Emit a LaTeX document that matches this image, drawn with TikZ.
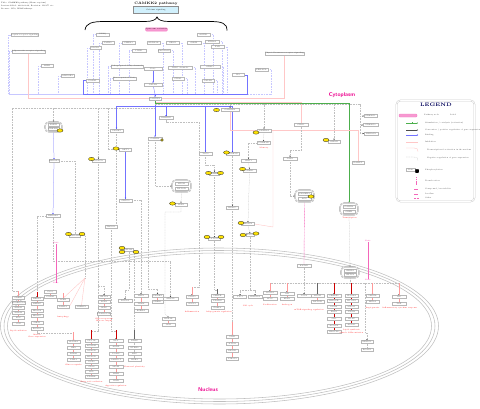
\documentclass[tikz,border=0pt]{standalone}
\usetikzlibrary{shapes.geometric,arrows.meta}
\pgfdeclarelayer{bg}
\pgfsetlayers{bg,main}
\newcommand\genecol[5]{%
  \foreach \yy/\gt [count=\ci] in {#3}{%
    \node[gene, minimum width=#5pt] (#1\ci) at (#2,\yy) {\gt};
    \ifnum\ci>1
      \pgfmathtruncatemacro\cj{\ci-1}%
      \begin{pgfonlayer}{bg}\draw[#4] (#1\cj.south) -- (#1\ci.north);\end{pgfonlayer}%
    \fi
  }}
\begin{document}
\begin{tikzpicture}[x=1pt,y=-1pt,
  tiny/.style={font=\fontsize{1.8}{2}\selectfont, inner sep=0pt},
  gene/.style={draw=black!28, fill=white, line width=0.3pt, inner sep=0pt, minimum height=3pt, minimum width=13pt, font=\fontsize{1.8}{2}\selectfont, text=black!70},
  yel/.style={ellipse, draw=black!85, fill=yellow!85!orange, line width=0.3pt, minimum width=6pt, minimum height=3.4pt, inner sep=0pt},
  cplx/.style={draw=black!40, double=white, double distance=0.5pt, line width=0.3pt, rounded corners=4pt, fill=white, inner sep=0pt},
  gd/.style={draw=black!25, dash pattern=on 1pt off 0.6pt, line width=0.25pt},
  ga/.style={gd, -{Stealth[length=1.2pt,width=1.2pt,black!80]}},
  bl/.style={draw=blue!22, dash pattern=on 1pt off 0.6pt, line width=0.25pt},
  bla/.style={draw=blue!55, line width=0.25pt, -{Stealth[length=1.2pt,width=1.2pt,blue!80]}},
  buss/.style={draw=blue!55, line width=0.35pt},
  gn/.style={draw=green!55!black!70, line width=0.25pt, -{Stealth[length=1.2pt,width=1.2pt]}},
  pk/.style={draw=red!22, line width=0.4pt},
  rl/.style={draw=red!40, line width=0.45pt},
  rd/.style={draw=red!80!black, line width=0.6pt},
  dk/.style={draw=black!60, line width=0.5pt},
  redtxt/.style={text=red, font=\fontsize{1.8}{2}\selectfont, inner sep=0pt},
  ltxt/.style={font=\fontsize{1.8}{2}\selectfont, inner sep=0pt, anchor=west, text=black!80},
]
\useasboundingbox (0,0) rectangle (480,408);

% nucleus membrane
\begin{pgfonlayer}{bg}
\draw[black!25, line width=0.55pt] (219.5,326) ellipse [x radius=219pt, y radius=78pt];
\draw[black!25, line width=0.55pt] (219.5,326) ellipse [x radius=215.5pt, y radius=75.5pt];
\draw[black!25, line width=0.55pt] (219.5,326) ellipse [x radius=212pt, y radius=73pt];
\end{pgfonlayer}

% header
\node[tiny, anchor=west] (h1) at (1,2.7) {Title: CAMKK2 pathway (Homo sapiens)};
\node[tiny, anchor=west] (h2) at (1,5.7) {Last modified: 2021-03-09, Revision: 116175 etc.};
\node[tiny, anchor=west] (h3) at (1,8.9) {License: CC0, WikiPathways};
\node[font=\bfseries\fontsize{3.4}{4}\selectfont, inner sep=0pt] (title) at (156,3.2) {CAMKK2 pathway};
\node[draw=black!45, fill=cyan!18, line width=0.3pt, minimum width=45pt, minimum height=6.5pt, inner sep=0pt, font=\fontsize{1.8}{2}\selectfont] (cyan) at (156,9.7) {Calcium signaling};
\draw[line width=0.7pt] (85,30) .. controls (86,23) and (92,21.5) .. (105,21.5) -- (145,21.5) .. controls (152,21.5) and (156,20) .. (157,17) .. controls (158,20) and (162,21.5) .. (169,21.5) -- (209,21.5) .. controls (222,21.5) and (227,23) .. (227,30.5);
\node[draw=magenta!50, fill=magenta!40, rounded corners=1pt, minimum width=19pt, minimum height=3.2pt, inner sep=0pt, font=\fontsize{1.8}{2}\selectfont] (mag) at (156.5,29.5) {Upstream activators};

% top nodes
\foreach \gn/\gx/\gy/\gw/\gt in {
  t1/25/35/24/{Leptin receptor signaling},
  t2/28.5/51.5/31/{Adiponectin receptor signaling},
  t3/102.5/34.5/13/GNAQ, t4/108/43/12/P2RY2, t5/128.5/43/13/CHRM3,
  t6/153.5/43/13/ADRA1A, t7/172.5/43/13/GRM1, t8/194/43/14/GHSR,
  t9/203.5/34.5/13/AGTR1, t10/212/41.5/14/HTR2A, t11/217.5/47/13/F2R,
  t12/95.5/48/11/PLCB1, t13/139/50.5/14/ITPR1, t14/164/50.5/12/CACNA1C,
  t15/47/66/12/LEPR, t16/67.5/76/13/ADIPOR1,
  t17/127/66.5/28/{Voltage-gated Ca2+ channels}, t18/124.5/78.5/23/{Store-operated Ca2+},
  t19/153/69/18/{Ca2+}, t20/180/67.5/24/{TRPC channels}, t21/210/66.5/20/ORAI1,
  t22/178/78.5/12/STIM1, t23/92.5/80.5/13/CALM1, t24/153/84.5/18/CALM2,
  t25/208/80.5/12/CALM3, t26/238/75/12/IP3, t27/261.5/69.5/13/PRKACA,
  t28/284.5/53.5/39/{Thyroid hormone receptor signaling}}
  \node[gene, minimum width=\gw pt] (\gn) at (\gx,\gy) {\gt};
\node[gene, minimum width=12pt] (hub) at (155,98.5) {CAMKK2};
\coordinate (bus) at (155,94);
\node[text=magenta, font=\sffamily\bfseries\fontsize{5.5}{6}\selectfont, inner sep=0pt] (cyto) at (342,95.5) {Cytoplasm};

% cytoplasm nodes
\foreach \gn/\gx/\gy/\gw/\gt in {
  c2/54/161/10/PRKAA1, c3/53/216/14/PRKAA2, c4/116.5/130.5/13/CAMK1,
  c5/166/118/14/CAMK1D, c6/155/138.5/14/CAMK4, c7/125.5/149.5/12/AKT1,
  c8/98.5/160.5/13/ACACA, c9/205.5/153.5/13/TSC2, c10/214.5/173.5/10/RHEB,
  c12/181/204.5/12/ULK1, c13/125.5/200.5/13/CRTC2, c14/111/226.5/12/TBC1D1,
  c15/232.5/207.5/12/HDAC5, c16/232.5/154/13/CAMK1G,
  r0/230/109.5/18/CAMKK2, r1/370.5/116/13/PRKAG1, r2/370.5/125/15/PRKAG2,
  r3/371/133.5/14/PRKAG3, r4/301/125/14/STK11, r5/264/130.5/14/CAMK2A,
  r6/263.5/143/13/CAMK2B, r7/334/141.5/12/GSK3B, r8/248.5/160.5/15/SIRT1,
  r9/290/158.5/14/TAK1, r10/358/163/12/NAMPT, r11/249.5/170.5/13/CREB1,
  r14/248/224/13/HDAC4, l1/75/235.5/11/PRKAB2, l2/129/250/9/EP300,
  l3/250/235/8/RPTOR, l4/214.5/239/12/ATG13, n0/304/266/14/KAT2B}
  \node[gene, minimum width=\gw pt] (\gn) at (\gx,\gy) {\gt};

% complexes
\node[cplx, minimum width=17pt, minimum height=10pt] (c1) at (53.5,127) {};
\node[gene, minimum width=11pt] (c1a) at (53.5,125) {AMPK};
\node[gene, minimum width=11pt] (c1b) at (53.5,129) {PRKAB1};
\node[cplx, minimum width=19pt, minimum height=12pt] (c11) at (181.5,186) {};
\node[gene, minimum width=13pt] (c11a) at (181.5,184) {MTOR};
\node[gene, minimum width=13pt] (c11b) at (181.5,188.5) {RPTOR};
\node[cplx, minimum width=19pt, minimum height=12pt] (r12) at (304.5,196) {};
\node[gene, minimum width=13pt] (r12a) at (304.5,194) {CAMKK2};
\node[gene, minimum width=13pt] (r12b) at (304.5,198.5) {ACC};
\node[cplx, minimum width=18pt, minimum height=12pt] (r13) at (349,209) {};
\node[gene, minimum width=12pt] (r13a) at (349,207) {CAMK4};
\node[gene, minimum width=12pt] (r13b) at (349,211.5) {CREB};
\node[cplx, minimum width=18pt, minimum height=11pt] (n1) at (350,272.5) {};
\node[gene, minimum width=12pt] (n1a) at (350,270.5) {CREB1};
\node[gene, minimum width=12pt] (n1b) at (350,274.8) {CRTC2};

% yellow phospho marks
\foreach \gn/\gx/\gy in {yc1/60/130.5, yc7/116/148.5, yc8/91.5/159, yc10a/208.5/173, yc10b/220.5/173,
  yc12/172.5/203.5, yc16/226.5/152.5, yr0/216.5/110, yr5/256/132.5, yr7/326/140, yr11/242.5/169,
  yr12/311/196.5, yr14/241/223, yl1a/68.5/234, yl1b/82/234, yl2a/122/248, yl2b/122/252, yl2c/136/252,
  yl3a/243/235, yl3b/256/233.5, yl4a/207/237, yl4b/221/237}
  \node[yel] (\gn) at (\gx,\gy) {};
\node[yel, minimum width=2.6pt, minimum height=2.6pt] (yc6) at (162,140) {};

% nucleus columns
\genecol{A}{18.5}{298/CREB1,303/PPARGC1A,308/NR4A1,313/NR4A2,318/FOS,324/JUN}{rl}{12}
\genecol{B}{37}{299/MEF2A,304/MEF2C,311/HDAC4,316/HDAC5,323/SIRT1,329/FOXO3}{rl}{12}
\genecol{C}{50.5}{292/Ca2+,297/CALM1}{rl}{12}
\genecol{D}{63}{300/TFEB,307/LAMP1}{rl}{12}
\genecol{E}{81.5}{307/SREBF1}{rl}{13}
\genecol{F}{104}{297/CRTC2,302/PCK1,308/G6PC,314/PPARGC1A}{rl}{12}
\genecol{G}{125}{301/PGC1A}{rl}{14}
\genecol{H}{141}{296/NRF1,304/TFAM,311/ESRRA}{rl}{14}
\genecol{I}{157.5}{296/CAMK4,302/CREB1}{rl}{11}
\genecol{J}{170.5}{299/ARNTL}{rl}{15}
\genecol{K}{168.5}{319/HNF4A,325/GCK}{rl}{13}
\genecol{L}{192}{297/STAT3,304/SOCS3}{rl}{12}
\genecol{M}{217.5}{296/CEBPB,301/PPARG,308/FABP4}{rl}{13}
\genecol{N}{232.5}{337/ULK1,344/ATG13,351/BECN1,359/PIK3C3}{rl}{12}
\genecol{O}{73.5}{342/SLC2A4,348/HK2,354/PFKM,360/PDK4}{rl}{13}
\genecol{P}{91.5}{341/CPT1A,346/ACADM,351/ACACB,357/MLYCD,362/UCP3,367/CD36,372/LPL,377/PPARA}{rl}{13}
\genecol{Q}{116}{341/NPY,347/AGRP,354/POMC,360/CARTPT,367/MC4R,374/LEPR,381/INSR}{rl}{14}
\genecol{R}{134.5}{341/BDNF,348/NTRK2,354/ARC,360/EGR1}{gd}{13}
\genecol{S}{240}{297/TP53}{rl}{13}
\genecol{T}{255}{297/CDKN1A}{rl}{14}
\genecol{U}{270}{293/CCND1,299/MYC}{rl}{14}
\genecol{V}{287}{294/AR,299/KLK3}{rl}{14}
\genecol{W}{304}{296/TSC2}{rl}{14}
\genecol{X}{317.5}{296/MTOR,302/RPTOR}{rl}{13}
\genecol{Y}{334}{296/SREBF2,301/HMGCR,307/LDLR,312/FASN,319/SCD,326/ACACA,332/ELOVL6}{rd}{14}
\genecol{Z}{351.5}{296/SLC2A4,301/MYOD1,307/MYOG,312/TNNI2,319/MYH7,325/ACTA1}{rd}{13}
\genecol{AA}{372.5}{296/VEGFA,302/HIF1A}{rl}{13}
\genecol{AB}{399}{297/IL6,304/TNF}{rl}{14}
\genecol{AC}{367}{342/NFATC1,350/RCAN1}{gd}{12}

% red outcome labels
\node[redtxt] (Ar) at (18.5,331) {Lipid oxidation};
\node[redtxt] (Br1) at (37,335) {Muscle};
\node[redtxt] (Br2) at (37,337) {Gene expression};
\node[redtxt] (Dr) at (63,317) {Autophagy};
\node[redtxt] (Fr1) at (104,319.5) {Gluconeogenesis};
\node[redtxt] (Fr2) at (104,321.5) {Glucose output};
\node[redtxt] (Lr) at (192,312) {Inflammation};
\node[redtxt] (Mr) at (219,312) {Adipogenesis regulation};
\node[redtxt] (Or) at (73.5,365) {Glucose uptake};
\node[redtxt] (Pr) at (91.5,382) {Fatty acid oxidation};
\node[redtxt] (Qr) at (116,386) {Appetite regulation};
\node[redtxt] (Rr) at (134.5,367) {Neuronal plasticity};
\node[redtxt] (Tr) at (248,306) {Cell cycle};
\node[redtxt] (Ur) at (270,305) {Proliferation};
\node[redtxt] (Vr) at (287,305) {Androgen};
\node[redtxt] (Wr) at (309,310) {mTOR signaling regulation};
\node[redtxt] (Zr1) at (351.5,330) {Lipid synthesis};
\node[redtxt] (Zr2) at (351.5,333) {Muscle differentiation};
\node[redtxt] (AAr) at (372.5,308) {Angiogenesis};
\node[redtxt] (ABr) at (400,308) {Inflammatory cytokine response};
\node[redtxt] (r6r) at (264,148) {Memory};
\node[redtxt] (r13r) at (349.5,218) {Transcription};

% translocation markers
\node[tiny, text=magenta] (m1t) at (56,243.5) {Ca2+};
\node[tiny, text=magenta] (m1b) at (56,283.5) {Ca2+};
\node[tiny, text=magenta] (m2t) at (368,241.5) {Ca2+};
\node[tiny, text=magenta] (m2b) at (368,280) {Ca2+};

\node[text=magenta, font=\sffamily\bfseries\fontsize{5.5}{6}\selectfont, inner sep=0pt] (nuc) at (208,390) {Nucleus};

% legend
\node[draw=black!20, double=white, double distance=0.6pt, line width=0.5pt, rounded corners=4pt, minimum width=78pt, minimum height=101pt, fill=white, inner sep=0pt] (legend) at (435.5,151) {};
\node[font=\bfseries\fontsize{5}{5}\selectfont, text=blue!35!black, inner sep=0pt] (legT) at (436,105) {LEGEND};
\node[draw=magenta!50, fill=magenta!40, rounded corners=1pt, minimum width=18pt, minimum height=3pt, inner sep=0pt] (lg1) at (408,115.5) {};
\node[ltxt] (lg1t) at (424,115.5) {Pathway node};
\node[ltxt] (lg1u) at (450,114.5) {Label};
\coordinate (g2a) at (406,123); \coordinate (g2b) at (418,123);
\coordinate (g3a) at (406,130); \coordinate (g3b) at (418,130);
\coordinate (g4a) at (406,135); \coordinate (g4b) at (418,135);
\coordinate (g5a) at (406,142); \coordinate (g5b) at (418,142);
\coordinate (g6a) at (406,148); \coordinate (g6b) at (418,151.5);
\coordinate (g7a) at (406,157); \coordinate (g7b) at (418,160.5);
\coordinate (g9a) at (416,177); \coordinate (g9b) at (416,185);
\coordinate (g10a) at (414,189); \coordinate (g10b) at (418,189);
\coordinate (g11a) at (414,194); \coordinate (g11b) at (418,194);
\coordinate (g12a) at (414,198); \coordinate (g12b) at (418,198);
\draw[gn] (g2a) -- (g2b);
\draw[green!55!black!70, line width=0.3pt] (412,122) -- (412,124);
\draw[black!70, line width=0.3pt, -{Stealth[length=1.2pt,width=1.2pt]}] (g3a) -- (g3b);
\draw[bla] (g4a) -- (g4b);
\draw[pk] (g5a) -- (g5b);
\draw[pk] (g6a) -- (414,148) .. controls (417,148) and (418,149) .. (g6b);
\draw[gd] (g7a) -- (414,157) .. controls (417,157) and (418,158) .. (g7b);
\node[gene, minimum width=9pt] (lg8) at (410.5,169.5) {Gene};
\node[draw=black, fill=black, rounded corners=0.8pt, minimum width=3.5pt, minimum height=3.5pt, inner sep=0pt] (lg8b) at (417,171) {};
\draw[magenta!60, line width=0.5pt, dash pattern=on 1.2pt off 0.6pt] (g9a) -- (g9b);
\draw[magenta!60, line width=0.45pt] (g10a) -- (g10b);
\draw[magenta!60, line width=0.45pt, dash pattern=on 0.5pt off 0.5pt] (g11a) -- (g11b);
\draw[magenta!60, line width=0.45pt, dash pattern=on 0.5pt off 0.8pt] (g12a) -- (g12b);
\node[ltxt] (l2t) at (425,123) {Stimulation / catalysis (activation)};
\node[ltxt] (l3t) at (425,130) {Conversion / positive regulation of gene expression};
\node[ltxt] (l4t) at (425,135) {Binding};
\node[ltxt] (l5t) at (425,142) {Inhibition};
\node[ltxt] (l6t) at (427,150) {Transcriptional activation in the nucleus};
\node[ltxt] (l7t) at (427,158) {Negative regulation of gene expression};
\node[ltxt] (l8t) at (425,170) {Phosphorylation};
\node[ltxt] (l9t) at (425,181) {Translocation};
\node[ltxt] (l10t) at (425,189) {Compound / metabolite};
\node[ltxt] (l11t) at (425,194) {Ion flux};
\node[ltxt] (l12t) at (425,198) {Other};

\coordinate (pkpt) at (85,278);

% connectors
\begin{pgfonlayer}{bg}
\foreach \n in {t1,t2,t3,t4,t5,t12,t13,t15,t16,t17,t18} \draw[bl] (\n.west) -- ++(-3,0) |- (bus);
\draw[buss] (t23.west) -- ++(-3,0) |- (bus);
\foreach \n in {t6,t7,t8,t9,t10,t11,t14,t20,t21,t22,t25,t27} \draw[bl] (\n.east) -- ++(3,0) |- (bus);
\draw[buss] (t26.east) -- ++(3,0) |- (bus);
\draw[bla] (t19) -- (t24);
\draw[buss] (t24) -- (bus);
\draw[bla] (bus) -- (hub);
\draw[pk] (t2.south) |- (hub.west);
\draw[pk] (t28.south) |- (hub.east);

\draw[ga] (hub.south) -- (155,108) -- (12,108) -- (12,291) -- (18.5,291) -- (A1.north);
\draw[ga] (hub.south) -- (155,108) -- (53.5,108) -- (c1.north);
\draw[ga] (hub.south) -- (155,108) -- (98.5,108) -- (c8.north);
\draw[ga] (hub.south) -- (155,108) -- (108,108) -- (108,149.5) -- (c7.west);
\draw[bla] (hub.south) -- (155,106) -- (116.5,106) -- (c4.north);
\draw[bla] (hub.south) -- (155,106) -- (166,106) -- (c5.north);
\draw[bla] (hub.south) -- (155,106) -- (205.5,106) -- (c9.north);
\draw[bla] (hub.south) -- (155,106) -- (232.5,106) -- (c16.north);
\draw[bla] (hub) -- (c6);
\draw[ga] (hub.south) -- (155,104) -- (360,104) -- (360,116) -- (r1.west);
\draw[ga] (hub.south) -- (155,104) -- (360,104) -- (360,125) -- (r2.west);
\draw[ga] (hub.south) -- (155,104) -- (360,104) -- (360,133.5) -- (r3.west);
\draw[ga] (hub.south) -- (155,104) -- (230,104) -- (r0.north);
\draw[ga] (hub.south) -- (155,104) -- (264,104) -- (r5.north);
\draw[ga] (hub.south) -- (155,104) -- (334,104) -- (r7.north);
\draw[pk] (hub.south) -- (155,102.5) -- (301,102.5) -- (r4.north);
\draw[gn] (hub.south) -- (155,103.3) -- (349,103.3) -- (r13.north);
\draw[pk] (r0.south) -- (230,130) -- (358,130) -- (r10.north);
\draw[pk] (r5.east) -- (273,130.5) -- (273,227) -- (r14.east);
\draw[ga] (r5.south) -- (r6.north);
\draw[ga] (r6.west) -- (248.5,143) -- (r8.north);
\draw[ga] (r8.south) -- (r11.north);
\draw[ga] (r11.south) -- (r14.north);
\draw[ga] (r14.south) -- (l3.north);
\draw[ga] (r4.south) -- (301,150) -- (290,150) -- (r9.north);
\draw[ga] (r9.south) -- (290,196) -- (r12.west);
\draw[magenta!60, dash pattern=on 1pt off 0.5pt, line width=0.4pt] (r12.south) -- (n0.north);
\draw[ga] (r13.south) -- (n1.north);

\draw[bla] (c1.south) -- (c2.north);
\draw[bla] (c2.south) -- (c3.north);
\draw[bla] (c7.south) -- (c13.north);
\draw[ga] (c6.south) -- (155,186) -- (c11.west);
\draw[ga] (c11.south) -- (c12.north);
\draw[ga] (c5.south) -- (166,122) -- (199,122) -- (199,287) -- (192,287) -- (L1.north);
\draw[ga] (c9.south) -- (205.5,165) -- (214.5,165) -- (c10.north);
\draw[ga] (c10.south) -- (l4.north);
\draw[ga] (l4.south) -- (214.5,290) -- (217.5,290) -- (M1.north);
\draw[ga] (c16.south) -- (c15.north);
\draw[ga] (c15.south) -- (N1.north);
\draw[ga] (c8.south) -- (98.5,286) -- (104,286) -- (F1.north);
\draw[ga] (c8.south) -- (98.5,331) -- (91.5,331) -- (P1.north);
\draw[ga] (c14.south) -- (111,331) -- (116,331) -- (Q1.north);
\draw[ga] (l2.east) -- (134.5,250) -- (R1.north);
\draw[ga] (l2.south) -- (129,290) -- (125,290) -- (G1.north);
\draw[ga] (c13.east) -- (141,200.5) -- (H1.north);
\draw[ga] (c6.west) -- (148,138.5) -- (148,289) -- (157.5,289) -- (I1.north);
\draw[ga] (c12.south) -- (181,212) -- (165,212) -- (165,314) -- (K1.north);
\draw[ga] (c3.south) -- (53,261) -- (170.5,261) -- (J1.north);
\draw[ga] (c3.west) -- (37,216) -- (B1.north);
\draw[ga] (B6.south) -- (37,333) -- (73.5,333) -- (O1.north);
\draw[gd] (c2.east) -- (75,161) -- (l1.north);
\draw[gd] (c4.south) -- (116.5,226.5) -- (c14.east);
\draw[gd] (l1.east) -- (85,235.5) -- (pkpt);
\draw[pk] (pkpt) -- (D1.north);
\draw[pk] (pkpt) -- (E1.north);
\draw[pk] (pkpt) -- (D2.east);
\draw[magenta!60, line width=0.5pt] (m1t) -- (m1b);
\draw[magenta!60, line width=0.5pt] (m2t) -- (m2b);

\foreach \c/\cx in {U/270,V/287,X/317.5,Y/334,Z/351.5,AA/372.5,AB/399}
  \draw[ga] (n1.south) -- (350,283) -- (\cx,283) -- (\c1.north);
\draw[ga] (n1.south) -- (350,283) -- (365,283) -- (365,333) -- (367,333) -- (AC1.north);
\draw[ga] (n0.south) -- (W1.north);
\draw[ga] (l3.south) -- (250,290) -- (240,290) -- (S1.north);
\draw[ga] (l3.south) -- (250,290) -- (255,290) -- (T1.north);

% coloured stubs into target genes
\draw[rl] (A1.north) -- ++(0,-5.5);
\draw[rd] (B1.north) -- ++(0,-5);
\draw[rd] (P1.north) -- ++(0,-9);
\draw[rd] (Q1.north) -- ++(0,-9);
\draw[dk] (R1.north) -- ++(0,-9);
\draw[rl] (O1.north) -- ++(0,-8);
\draw[rl] (N1.north) -- ++(0,-13);
\draw[rl] (U1.north) -- ++(0,-8.5);
\draw[rl] (V1.north) -- ++(0,-9.5);
\draw[rd] (Y1.north) -- ++(0,-11.5);
\draw[rd] (Z1.north) -- ++(0,-11.5);
\draw[rl] (AA1.north) -- ++(0,-11.5);
\draw[rl] (AB1.north) -- ++(0,-12.5);
\draw[dk] (X1.north) -- ++(0,-11.5);
\draw[rl] (D1.north) -- ++(0,-5);
\draw[rl] (L1.north) -- ++(0,-8.5);
\draw[dk] (M1.north) -- ++(0,-5.5);
\end{pgfonlayer}
\end{tikzpicture}
\end{document}
